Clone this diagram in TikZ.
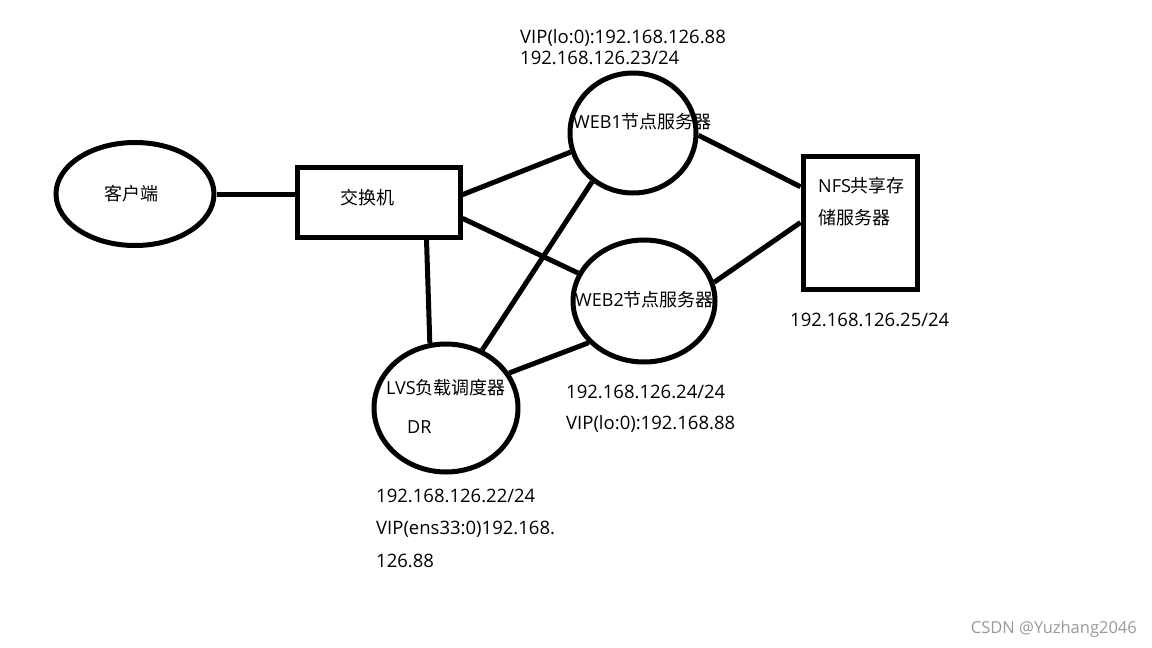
\documentclass[tikz,border=0pt]{standalone}
\usepackage{fontspec}
\setmainfont{Noto Sans CJK SC}
\newfontfamily\latf{Open Sans}
\usetikzlibrary{shapes.geometric}
\tikzset{
  conn/.style={line width=5pt},
  ellbox/.style={ellipse, draw, line width=5pt, inner sep=0pt},
  rectbox/.style={rectangle, draw, line width=5pt, inner sep=0pt},
  txt/.style={anchor=west, inner sep=0pt, font=\fontsize{18}{22}\selectfont},
  lab/.style={anchor=west, inner sep=0pt, font=\latf\fontsize{18.5}{22}\selectfont},
}
\begin{document}
\begin{tikzpicture}[x=1pt,y=-1pt]
\useasboundingbox (0,0) rectangle (1152,648);
% shapes
\node[ellbox, minimum width=158pt, minimum height=103pt] (client) at (135,194) {};
\node[rectbox, minimum width=163pt, minimum height=70pt] (sw) at (378.5,202) {};
\node[ellbox, minimum width=126pt, minimum height=120pt] (web1) at (633,133) {};
\node[ellbox, minimum width=142pt, minimum height=122pt] (web2) at (644,301) {};
\node[ellbox, minimum width=144pt, minimum height=128pt] (lvs) at (446,408) {};
\node[rectbox, minimum width=114pt, minimum height=133pt] (nfs) at (860,222.5) {};
% connectors
\draw[conn] (client.east) -- (client.east -| sw.west);
\draw[conn] (sw.5.6) -- (web1.197.3);
\draw[conn] (sw.-11.8) -- (web2.157.9);
\draw[conn] (sw.-38.8) -- (lvs.104.2);
\draw[conn] (lvs.58.7) -- (web1.230.8);
\draw[conn] (lvs.29.4) -- (web2.217.9);
\draw[conn] (web1.-2) -- (nfs.149.4);
\draw[conn] (web2.15.1) -- (nfs.180);
% texts in shapes
\node[txt, anchor=center] (tclient) at (131,194) {客户端};
\node[txt, anchor=center] (tsw) at (367,198) {交换机};
\node[txt] (tweb1) at (573,122) {{\latf WEB1}节点服务器};
\node[txt] (tweb2) at (575,300) {{\latf WEB2}节点服务器};
\node[txt] (tlvs) at (386,388) {{\latf LVS}负载调度器};
\node[txt] (tdr) at (407,427) {\latf DR};
\node[txt] (tnfs1) at (818,186) {{\latf NFS}共享存};
\node[txt] (tnfs2) at (818,218) {储服务器};
% address labels
\node[lab] (l1) at (520,38) {VIP(lo:0):192.168.126.88};
\node[lab] (l2) at (520,58) {192.168.126.23/24};
\node[lab] (l3) at (790,320) {192.168.126.25/24};
\node[lab] (l4) at (566,392) {192.168.126.24/24};
\node[lab] (l5) at (566,424) {VIP(lo:0):192.168.88};
\node[lab] (l6) at (376,496) {192.168.126.22/24};
\node[lab] (l7) at (376,529) {VIP(ens33:0)192.168.};
\node[lab] (l8) at (376,561) {126.88};
% watermark
\node[anchor=east, inner sep=0pt, text=black!40, font=\latf\fontsize{16.5}{19}\selectfont] (wm) at (1137,629) {CSDN @Yuzhang2046};
\end{tikzpicture}
\end{document}
